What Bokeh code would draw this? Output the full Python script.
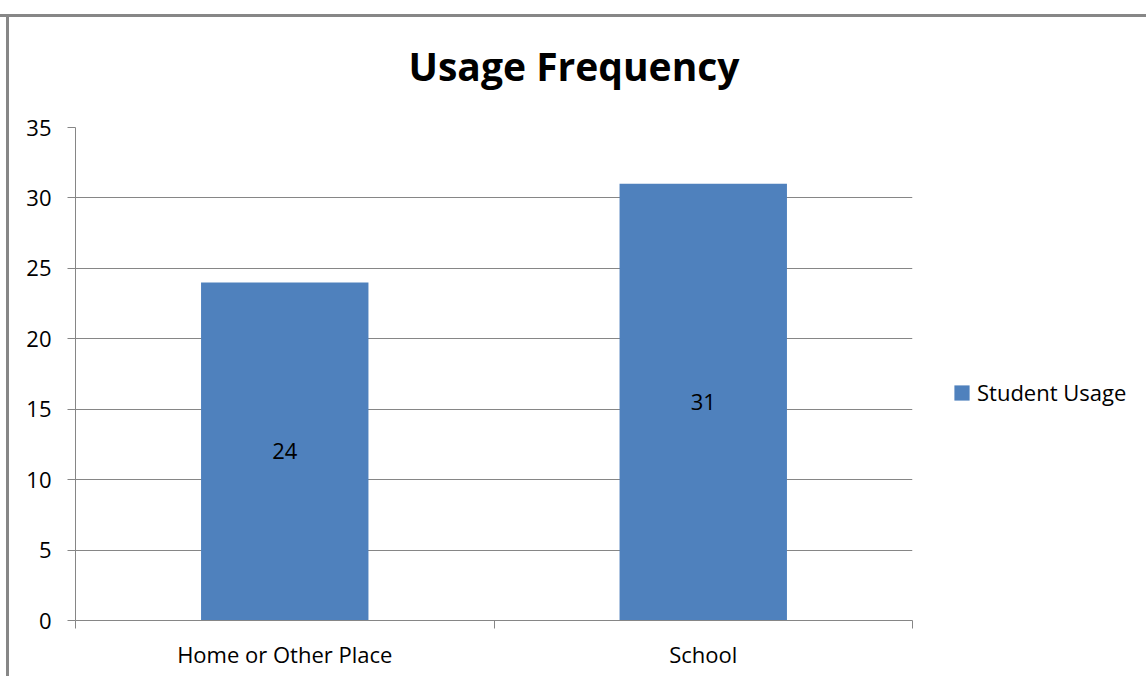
from bokeh.plotting import figure
from bokeh.models import (ColumnDataSource, Range1d, FixedTicker, SingleIntervalTicker,
                          LabelSet, Legend, LegendItem)
from bokeh.core.properties import value
from bokeh.embed import file_html
from bokeh.resources import INLINE

# ---- data ----
categories = ["Home or Other Place", "School"]
values = [24, 31]
series_name = "Student Usage"
title_text = "Usage  Frequency"
y_max = 35
y_step = 5

FONT = "Open Sans"
GRID = "#868686"
BAR = "#4F81BD"
EDGE = "#878787"

xpos = [i + 0.5 for i in range(len(categories))]
src = ColumnDataSource(dict(
    x=xpos,
    top=values,
    mid=[v / 2 for v in values],
    lab=[str(v) for v in values],
))

p = figure(width=1146, height=676, frame_width=837, frame_height=493,
           x_range=Range1d(0, len(categories)), y_range=Range1d(0, y_max),
           output_backend="svg", toolbar_location=None,
           min_border_left=75, min_border_top=127,
           min_border_right=234, min_border_bottom=56)
# chart-area border (top and left edges) drawn behind a transparent canvas
p.styles = {
    "background": (f"linear-gradient({EDGE},{EDGE}) 0px 14px / 100% 3px no-repeat, "
                   f"linear-gradient({EDGE},{EDGE}) 6px 14px / 3px 100% no-repeat, white"),
}
p.border_fill_alpha = 0
p.outline_line_color = None
p.background_fill_color = "white"

r = p.vbar(x="x", top="top", width=0.4, bottom=0, source=src,
           fill_color=BAR, line_color=None)

# title
p.title.text = title_text
p.title.align = "left"
p.title.offset = 333
p.title.standoff = 72
p.title.text_font = FONT
p.title.text_font_size = "39px"
p.title.text_font_style = "bold"
p.title.text_color = "#000000"

# grid
p.xgrid.visible = False
p.ygrid.grid_line_color = GRID
p.ygrid.grid_line_width = 1

# y axis
ya = p.yaxis[0]
ya.ticker = SingleIntervalTicker(interval=y_step, num_minor_ticks=0)
ya.axis_line_color = GRID
ya.major_tick_line_color = GRID
ya.major_tick_out = 8
ya.major_tick_in = 0
ya.minor_tick_line_color = None
ya.major_label_standoff = 16
ya.major_label_text_font = FONT
ya.major_label_text_font_size = "22px"
ya.major_label_text_color = "#000000"

# x axis: labels at category centres, ticks at category boundaries
xa = p.xaxis[0]
xa.ticker = FixedTicker(ticks=xpos, minor_ticks=list(range(len(categories) + 1)))
xa.major_label_overrides = {xv: c for xv, c in zip(xpos, categories)}
xa.axis_line_color = GRID
xa.major_tick_out = 0
xa.major_tick_in = 0
xa.major_tick_line_color = None
xa.minor_tick_line_color = GRID
xa.minor_tick_out = 8
xa.minor_tick_in = 0
xa.major_label_standoff = 10
xa.major_label_text_font = FONT
xa.major_label_text_font_size = "22px"
xa.major_label_text_color = "#000000"

# data labels
p.add_layout(LabelSet(x="x", y="mid", text="lab", source=src,
                      text_align="center", text_baseline="middle",
                      text_font=value(FONT), text_font_size="22px",
                      text_color="#000000"))

# legend (outside, right)
lg = Legend(items=[LegendItem(label=series_name, renderers=[r])], location=(40, 213))
lg.border_line_color = None
lg.background_fill_alpha = 0
lg.padding = 0
lg.margin = 0
lg.glyph_width = 19
lg.glyph_height = 19
lg.label_standoff = 6
lg.label_text_font = FONT
lg.label_text_font_size = "22px"
lg.label_text_color = "#000000"
p.add_layout(lg, "right")

open("out.html", "w").write(file_html(p, INLINE))
